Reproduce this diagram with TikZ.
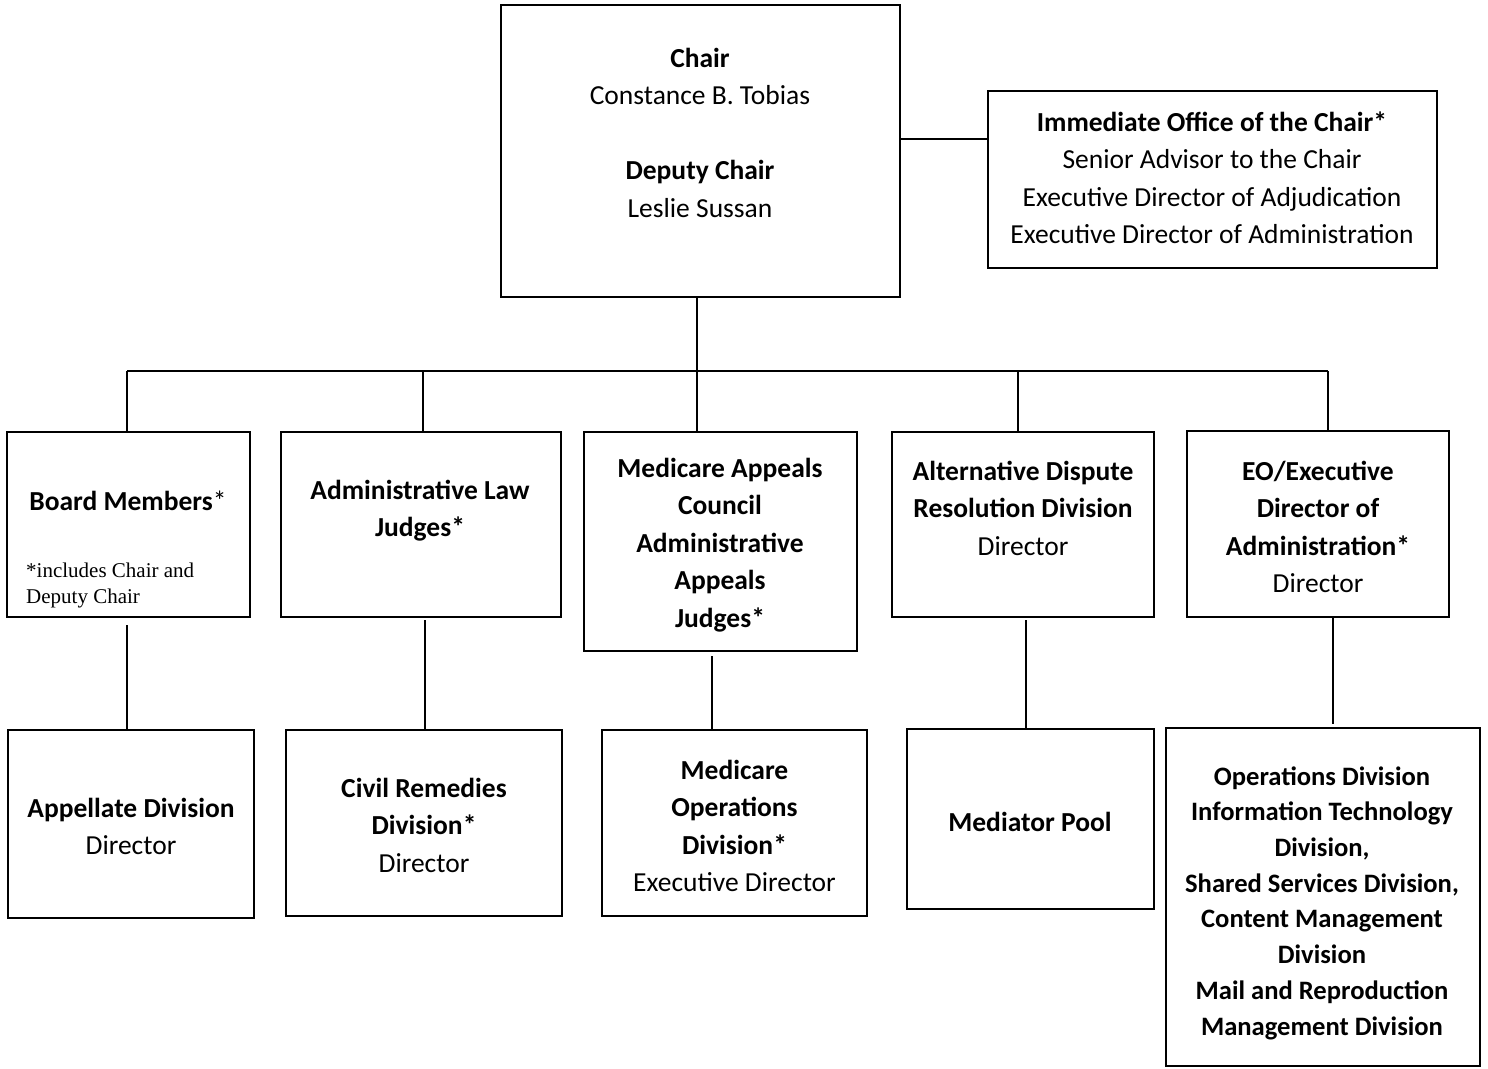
\documentclass[tikz,border=0pt]{standalone}
\usepackage{fontspec}
\setmainfont{Carlito}
\newfontfamily\tnr{Liberation Serif}
\begin{document}
\begin{tikzpicture}[x=1pt,y=-1pt,
  box/.style={draw,line width=1.7pt,inner sep=0pt,rectangle},
  conn/.style={line width=1.2pt},
  txt/.style={align=center,inner sep=0pt,anchor=base,font=\fontsize{27.5}{37.5}\selectfont},
  btxt/.style={txt,font=\fontsize{27.5}{37.5}\selectfont\bfseries},
]
\useasboundingbox (0,0) rectangle (1488,1068);
% boxes
\node[box,minimum width=399pt,minimum height=292pt] (chair) at (700.5,151) {};
\node[box,minimum width=449pt,minimum height=177pt] (office) at (1212.5,179.5) {};
\node[box,minimum width=243pt,minimum height=185pt] (board) at (128.5,524.5) {};
\node[box,minimum width=280pt,minimum height=185pt] (alj) at (421,524.5) {};
\node[box,minimum width=273pt,minimum height=219pt] (mac) at (720.5,541.5) {};
\node[box,minimum width=262pt,minimum height=185pt] (adr) at (1023,524.5) {};
\node[box,minimum width=262pt,minimum height=186pt] (eo) at (1318,524) {};
\node[box,minimum width=246pt,minimum height=188pt] (app) at (131,824) {};
\node[box,minimum width=276pt,minimum height=186pt] (crd) at (424,823) {};
\node[box,minimum width=265pt,minimum height=186pt] (mod) at (734.5,823) {};
\node[box,minimum width=247pt,minimum height=180pt] (med) at (1030.5,819) {};
\node[box,minimum width=314pt,minimum height=338pt] (ops) at (1323,897) {};
% texts (anchor = baseline of the last line)
\node[txt] (chairT) at (700,217) {\textbf{Chair}\\Constance B. Tobias\\[37.5pt]\textbf{Deputy Chair}\\Leslie Sussan};
\node[txt] (officeT) at (1212,243.5) {\textbf{Immediate Office of the Chair*}\\Senior Advisor to the Chair\\Executive Director of Adjudication\\Executive Director of Administration};
\node[txt] (boardT) at (128,510) {\textbf{Board Members}*};
\node[inner sep=0pt,anchor=base west,align=left,font=\tnr\fontsize{21}{26}\selectfont] (boardN) at (26,603) {*includes Chair and\\Deputy Chair};
\node[btxt] (aljT) at (420,536.5) {Administrative Law\\Judges*};
\node[btxt] (macT) at (720,627) {Medicare Appeals\\Council\\Administrative\\Appeals\\Judges*};
\node[txt] (adrT) at (1023,555) {\textbf{Alternative Dispute}\\\textbf{Resolution Division}\\Director};
\node[txt] (eoT) at (1318,592.5) {\textbf{EO/Executive}\\\textbf{Director of}\\\textbf{Administration*}\\Director};
\node[txt] (appT) at (131,854.5) {\textbf{Appellate Division}\\Director};
\node[txt] (crdT) at (424,872) {\textbf{Civil Remedies}\\\textbf{Division*}\\Director};
\node[txt] (modT) at (734.5,891.5) {\textbf{Medicare}\\\textbf{Operations}\\\textbf{Division*}\\Executive Director};
\node[btxt] (medT) at (1030,831) {Mediator Pool};
\node[btxt,font=\fontsize{26.6}{35.7}\selectfont\bfseries] (opsT) at (1322,1035) {Operations Division\\Information Technology\\Division,\\Shared Services Division,\\Content Management\\Division\\Mail and Reproduction\\Management Division};
% connectors
\draw[conn] ([yshift=12pt]chair.east) -- ([yshift=12pt]chair.east -| office.west);
\coordinate (bj) at (697,371);
\coordinate (d1) at (127,371);
\coordinate (d2) at (423,371);
\coordinate (d4) at (1018,371);
\coordinate (d5) at (1328,371);
\draw[conn] (chair.south -| bj) -- (bj);
\draw[conn] (d1) -- (d5);
\draw[conn] (d1) -- (d1 |- board.north);
\draw[conn] (d2) -- (d2 |- alj.north);
\draw[conn] (bj) -- (bj |- mac.north);
\draw[conn] (d4) -- (d4 |- adr.north);
\draw[conn] (d5) -- (d5 |- eo.north);
\coordinate (v1) at (127,625);
\coordinate (v2) at (425,620);
\coordinate (v3) at (712,656);
\coordinate (v4) at (1026,620);
\coordinate (v5) at (1333,617);
\draw[conn] (v1) -- (v1 |- app.north);
\draw[conn] (v2) -- (v2 |- crd.north);
\draw[conn] (v3) -- (v3 |- mod.north);
\draw[conn] (v4) -- (v4 |- med.north);
\draw[conn] (v5) -- (1333,724);
\end{tikzpicture}
\end{document}
